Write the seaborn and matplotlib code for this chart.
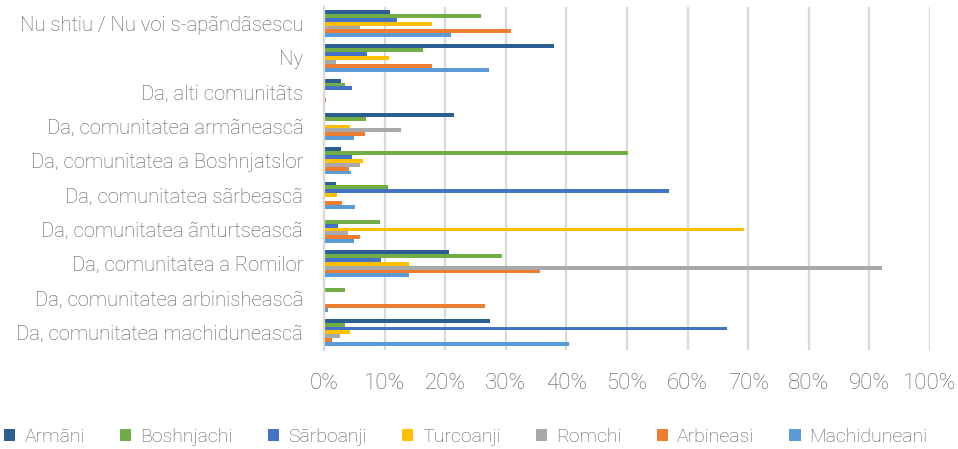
import matplotlib
matplotlib.use("Agg")
import matplotlib.pyplot as plt
import seaborn as sns
import pandas as pd
from matplotlib.ticker import FuncFormatter

categories = [
    "Nu shtiu / Nu voi s-apãndãsescu",
    "Ny",
    "Da, alti comunitãts",
    "Da, comunitatea armãneascã",
    "Da, comunitatea a Boshnjatslor",
    "Da, comunitatea sãrbeascã",
    "Da, comunitatea ãnturtseascã",
    "Da, comunitatea a Romilor",
    "Da, comunitatea arbinisheascã",
    "Da, comunitatea machiduneascã",
]
series_names = ["Armãni", "Boshnjachi", "Sãrboanji", "Turcoanji", "Romchi", "Arbineasi", "Machiduneani"]

armani       = [10.9, 37.9, 2.8, 21.5, 2.8, 1.9, 0.0, 20.7, 0.0, 27.4]
boshnjachi   = [25.9, 16.3, 3.5, 6.9, 50.1, 10.5, 9.2, 29.4, 3.5, 3.5]
sarboanji    = [12.0, 7.1, 4.7, 0.0, 4.7, 57.0, 2.3, 9.4, 0.0, 66.5]
turcoanji    = [17.9, 10.7, 0.0, 4.3, 6.5, 2.1, 69.3, 14.0, 0.0, 4.3]
romchi       = [6.0, 1.9, 0.0, 12.7, 6.0, 0.0, 3.9, 92.0, 0.0, 2.7]
arbineasi    = [30.9, 17.8, 0.4, 6.8, 4.1, 3.0, 6.0, 35.7, 26.5, 1.3]
machiduneani = [20.9, 27.2, 0.2, 5.0, 4.4, 5.1, 5.0, 14.1, 0.7, 40.5]

colors = ["#2A5F8F", "#70AD47", "#4472C4", "#FFC000", "#A9A9A9", "#ED7D31", "#5B9BD5"]

series_values = [armani, boshnjachi, sarboanji, turcoanji, romchi, arbineasi, machiduneani]
rows = []
for name, vals in zip(series_names, series_values):
    for cat, v in zip(categories, vals):
        rows.append({"cat": cat, "series": name, "value": v})
df = pd.DataFrame(rows)

sns.set_theme(style="white")
plt.rcParams["font.family"] = ["Roboto", "DejaVu Sans"]
plt.rcParams["font.weight"] = "light"
text_color = "#595959"

fig = plt.figure(figsize=(9.58, 4.49), dpi=100)
ax = fig.add_axes([0.3382, 0.2216, 0.6326, 0.7639])

sns.barplot(data=df, y="cat", x="value", hue="series", order=categories,
            hue_order=series_names, palette=colors, orient="h", width=0.79,
            saturation=1, edgecolor="none", linewidth=0, legend=True, ax=ax)

ax.set_xlim(0, 100)
ax.set_xticks(range(0, 101, 10))
ax.xaxis.set_major_formatter(FuncFormatter(lambda v, p: f"{int(v)}%"))
ax.grid(axis="x", color="#d9d9d9", linewidth=1.6)
ax.set_axisbelow(True)
for s in ["top", "right", "bottom"]:
    ax.spines[s].set_visible(False)
ax.spines["left"].set_color("#d9d9d9")
ax.spines["left"].set_linewidth(1.6)
ax.set_xlabel("")
ax.set_ylabel("")
ax.tick_params(axis="x", length=0, pad=17, labelsize=16, labelcolor=text_color)
ax.tick_params(axis="y", length=0, pad=15, labelsize=14.6, labelcolor=text_color)
for t in ax.get_xticklabels() + ax.get_yticklabels():
    t.set_fontweight("light")

handles, labels = ax.get_legend_handles_labels()
ax.get_legend().remove()
leg = fig.legend(handles, labels, loc="center left", bbox_to_anchor=(0.004, 0.027),
           ncol=7, frameon=False, labelcolor=text_color,
           handlelength=0.6, handleheight=0.6, handletextpad=0.45,
           columnspacing=1.8, borderaxespad=0, borderpad=0,
           prop={"weight": "light", "size": 14})

fig.savefig("out.png", dpi=100)
